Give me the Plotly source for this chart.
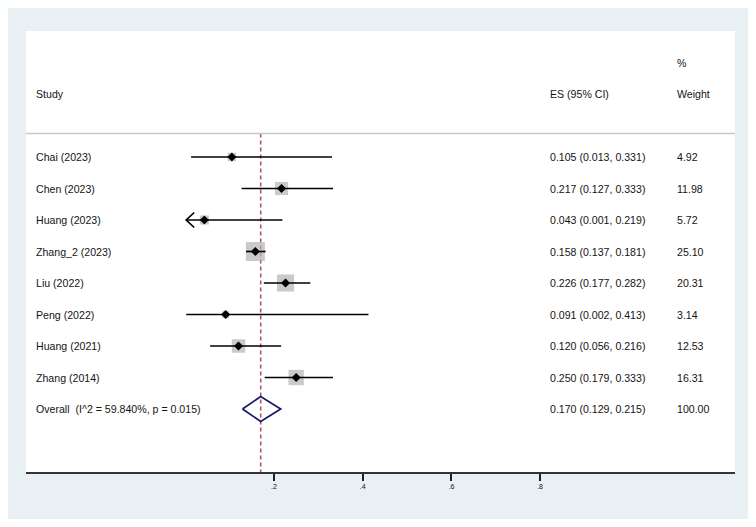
import numpy as np
import plotly.graph_objects as go

# ---- data ----
studies = ["Chai (2023)", "Chen (2023)", "Huang (2023)", "Zhang_2 (2023)", "Liu (2022)",
           "Peng (2022)", "Huang (2021)", "Zhang (2014)"]
es = [0.105, 0.217, 0.043, 0.158, 0.226, 0.091, 0.120, 0.250]
ci_lo = [0.013, 0.127, 0.001, 0.137, 0.177, 0.002, 0.056, 0.179]
ci_hi = [0.331, 0.333, 0.219, 0.181, 0.282, 0.413, 0.216, 0.333]
weights = [4.92, 11.98, 5.72, 25.10, 20.31, 3.14, 12.53, 16.31]
overall_label = "Overall  (I^2 = 59.840%, p = 0.015)"
overall_es, overall_lo, overall_hi, overall_w = 0.170, 0.129, 0.215, 100.00
tick_vals = [0.2, 0.4, 0.6, 0.8]
tick_text = [".2", ".4", ".6", ".8"]
x_min_plot = 0.002  # CIs reaching below this are cut and get an arrow

BG = "#E9F0F3"
TXT = "#141414"
FONT = "Liberation Sans, Arial, sans-serif"
PAGE = 8  # browser body margin
W, H = 756 - 2 * PAGE, 527 - 2 * PAGE
L_M, R_M, T_M, B_M = 26 - PAGE, 21 - PAGE, 31 - PAGE, 55 - PAGE
px_per_unit = 443.5
x0_px = 185.3 - PAGE  # pixel position of 0 inside the figure
xr = [(L_M - x0_px) / px_per_unit, (W - R_M - x0_px) / px_per_unit]
yr = [10, -4]  # rows, reversed
row_px = (H - T_M - B_M) / (yr[0] - yr[1])

rows = list(range(len(studies)))
ov_row = len(studies)

fig = go.Figure()

# weight boxes (side ~ sqrt(weight))
fig.add_trace(go.Scatter(x=es, y=rows, mode="markers",
                         marker=dict(symbol="square", color="#B3B3B3",
                                     size=[3.8 * np.sqrt(w) for w in weights], line=dict(width=0)),
                         hoverinfo="skip", showlegend=False))

# CI lines, clipped at the axis limit
for r, lo, hi in zip(rows, ci_lo, ci_hi):
    fig.add_trace(go.Scatter(x=[max(lo, x_min_plot), hi], y=[r, r], mode="lines",
                             line=dict(color="black", width=1.7), hoverinfo="skip", showlegend=False))

# left arrows for CIs going past the axis limit
dx = 8 / px_per_unit
dy = 7.5 / row_px
for r, lo in zip(rows, ci_lo):
    if lo < x_min_plot:
        fig.add_trace(go.Scatter(x=[x_min_plot + dx, x_min_plot, x_min_plot + dx],
                                 y=[r - dy, r, r + dy], mode="lines",
                                 line=dict(color="black", width=1.7), hoverinfo="skip", showlegend=False))

# point estimates
fig.add_trace(go.Scatter(x=es, y=rows, mode="markers",
                         marker=dict(symbol="diamond", color="black", size=7),
                         hoverinfo="skip", showlegend=False))

# overall diamond
dh = 12.5 / row_px
fig.add_trace(go.Scatter(x=[overall_lo, overall_es, overall_hi, overall_es, overall_lo],
                         y=[ov_row, ov_row - dh, ov_row, ov_row + dh, ov_row], mode="lines",
                         line=dict(color="#1C1C6B", width=1.8), hoverinfo="skip", showlegend=False))

shapes = [
    dict(type="line", xref="paper", yref="y", x0=0, x1=1, y0=-0.75, y1=-0.75,
         line=dict(color="#C8C8C8", width=1.5)),
    dict(type="line", xref="x", yref="y", x0=overall_es, x1=overall_es, y0=-0.75, y1=10,
         line=dict(color="#A85A6A", width=1.6, dash="4px,3px"), layer="below"),
]

ann = []
def txt(x, y, s):
    ann.append(dict(x=x, y=y, xref="paper", yref="y", text=s, showarrow=False,
                    xanchor="left", yanchor="middle", font=dict(family=FONT, size=10.6, color=TXT)))

pw = W - L_M - R_M
xs_study = (34.3 - PAGE - L_M) / pw
xs_es = (548 - PAGE - L_M) / pw
xs_w = (674.7 - PAGE - L_M) / pw

txt(xs_study, -2, "Study")
txt(xs_es, -2, "ES (95% CI)")
txt(xs_w, -3, "%")
txt(xs_w, -2, "Weight")
for r, s, e, lo, hi, w in zip(rows, studies, es, ci_lo, ci_hi, weights):
    txt(xs_study, r, s)
    txt(xs_es, r, f"{e:.3f} ({lo:.3f}, {hi:.3f})")
    txt(xs_w, r, f"{w:.2f}")
txt(xs_study, ov_row, overall_label)
txt(xs_es, ov_row, f"{overall_es:.3f} ({overall_lo:.3f}, {overall_hi:.3f})")
txt(xs_w, ov_row, f"{overall_w:.2f}")

fig.update_layout(
    width=W, height=H, margin=dict(l=L_M, r=R_M, t=T_M, b=B_M),
    paper_bgcolor=BG, plot_bgcolor="white", shapes=shapes, annotations=ann,
    xaxis=dict(range=xr, showgrid=False, zeroline=False, showline=True, linecolor="#333333", linewidth=1.5,
               ticks="outside", ticklen=7, tickwidth=1.5, tickcolor="#222222",
               tickvals=tick_vals, ticktext=tick_text, tickfont=dict(family=FONT, size=7, color="#111111")),
    yaxis=dict(range=yr, showgrid=False, zeroline=False, showticklabels=False, showline=False),
)

fig.write_html("out.html")
